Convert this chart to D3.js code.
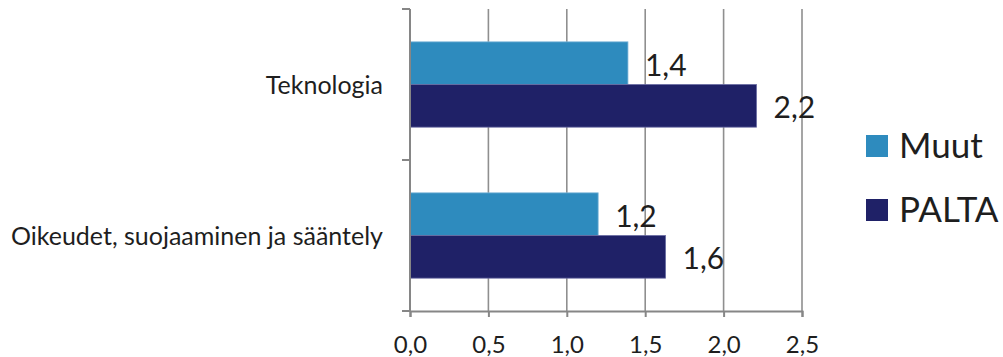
<!DOCTYPE html>
<html>
<head>
<meta charset="utf-8">
<script src="https://cdn.jsdelivr.net/npm/d3@7"></script>
<style>
  html, body { margin: 0; padding: 0; background: #fff; }
  svg { display: block; font-family: Lato, "Open Sans", sans-serif; }
</style>
</head>
<body>
<svg id="chart" width="1003" height="357"></svg>
<script>
// Categories (top to bottom) and series
const categories = ["Teknologia", "Oikeudet, suojaaminen ja sääntely"];
const seriesNames = ["Muut", "PALTA"];
const muutValues = [1.39, 1.2];
const paltaValues = [2.21, 1.63];
const xTickValues = [0, 0.5, 1.0, 1.5, 2.0, 2.5];

const colors = { Muut: "#2e8bbe", PALTA: "#1f2167" };
const strokes = { Muut: "#7fb6d8", PALTA: "#6a6da3" };

const rows = categories.map((c, i) => ({
  category: c,
  values: [
    { series: "Muut", value: muutValues[i] },
    { series: "PALTA", value: paltaValues[i] }
  ]
}));

const svg = d3.select("#chart");
const fmt = v => d3.format(".1f")(v).replace(".", ",");

const x = d3.scaleLinear().domain([0, 2.5]).range([410, 802]);
const y = d3.scaleBand().domain(categories).range([9, 311])
  .paddingInner(0.435).paddingOuter(0.2175);
const ySeries = d3.scaleBand().domain(seriesNames).range([0, y.bandwidth()]);

// vertical gridlines
svg.append("g").selectAll("line")
  .data(xTickValues.filter(d => d > 0))
  .join("line")
  .attr("x1", d => x(d)).attr("x2", d => x(d))
  .attr("y1", 9).attr("y2", 311)
  .attr("stroke", "#8f8f8f").attr("stroke-width", 1.6);

// bars
const groups = svg.append("g").selectAll("g")
  .data(rows).join("g")
  .attr("transform", d => `translate(0,${y(d.category)})`);

groups.selectAll("rect")
  .data(d => d.values).join("rect")
  .attr("x", x(0))
  .attr("y", d => ySeries(d.series))
  .attr("width", d => x(d.value) - x(0))
  .attr("height", ySeries.bandwidth())
  .attr("fill", d => colors[d.series])
  .attr("stroke", d => strokes[d.series])
  .attr("stroke-width", 0.8);

// value labels
groups.selectAll("text")
  .data(d => d.values).join("text")
  .attr("x", d => x(d.value) + 17)
  .attr("y", d => ySeries(d.series) + ySeries.bandwidth() / 2 + 12.5)
  .attr("font-size", 30)
  .attr("fill", "#1e1e1e")
  .text(d => fmt(d.value));

// x axis
const xAxis = d3.axisBottom(x).tickValues(xTickValues).tickSize(6).tickPadding(19)
  .tickFormat(fmt);
const gx = svg.append("g").attr("transform", "translate(0,311)").call(xAxis);
gx.select(".domain").attr("stroke", "#868686").attr("stroke-width", 2);
gx.selectAll(".tick line").attr("stroke", "#868686").attr("stroke-width", 2);
gx.selectAll(".tick text").attr("font-size", 24).attr("fill", "#1e1e1e")
  .attr("font-family", "Lato, 'Open Sans', sans-serif");

// y axis line with category boundary ticks
const yBoundaries = [9].concat(categories.map(c => y(c) - y.step() * y.paddingInner() / 2 + y.step()));
const gy = svg.append("g");
gy.append("line").attr("x1", x(0)).attr("x2", x(0)).attr("y1", 9).attr("y2", 311)
  .attr("stroke", "#868686").attr("stroke-width", 2);
gy.selectAll("line.t").data(yBoundaries).join("line").attr("class", "t")
  .attr("x1", x(0) - 8).attr("x2", x(0)).attr("y1", d => d).attr("y2", d => d)
  .attr("stroke", "#868686").attr("stroke-width", 2);

// category labels
svg.append("g").selectAll("text")
  .data(categories).join("text")
  .attr("x", 383)
  .attr("y", d => y(d) + y.bandwidth() / 2 + 9)
  .attr("text-anchor", "end")
  .attr("font-size", 25)
  .attr("fill", "#1e1e1e")
  .text(d => d);

// legend
const legend = svg.append("g").selectAll("g")
  .data(seriesNames).join("g")
  .attr("transform", (d, i) => `translate(866,${135 + i * 64})`);
legend.append("rect").attr("width", 22).attr("height", 22)
  .attr("fill", d => colors[d]);
legend.append("text").attr("x", 33).attr("y", 23)
  .attr("font-size", 35).attr("fill", "#1e1e1e")
  .text(d => d);
</script>
</body>
</html>
